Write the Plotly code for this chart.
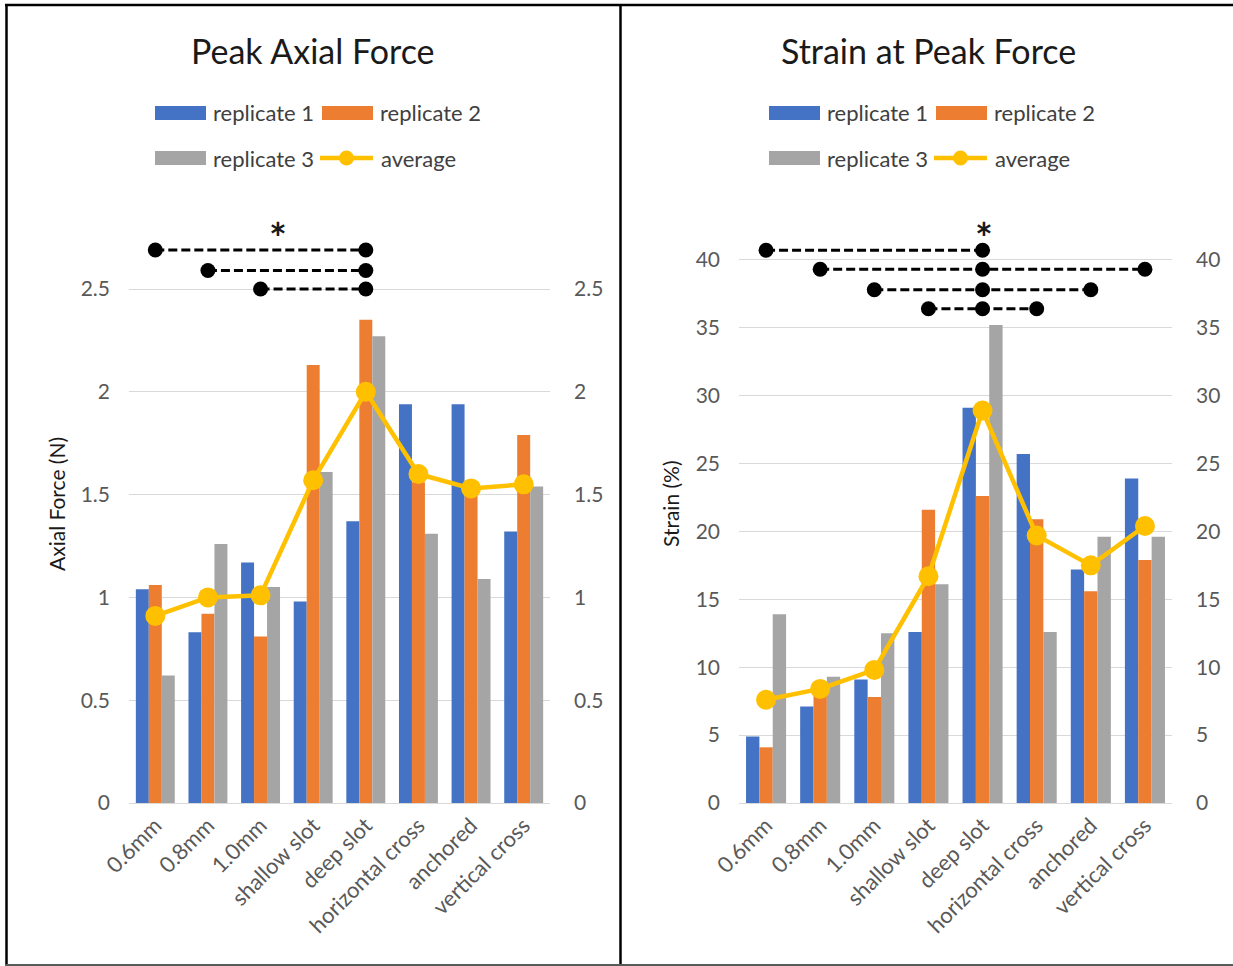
import plotly.graph_objects as go

# ---- data -------------------------------------------------------------
categories = ["0.6mm", "0.8mm", "1.0mm", "shallow slot", "deep slot",
              "horizontal cross", "anchored", "vertical cross"]

force_rep1 = [1.04, 0.83, 1.17, 0.98, 1.37, 1.94, 1.94, 1.32]
force_rep2 = [1.06, 0.92, 0.81, 2.13, 2.35, 1.56, 1.56, 1.79]
force_rep3 = [0.62, 1.26, 1.05, 1.61, 2.27, 1.31, 1.09, 1.54]
force_avg = [0.91, 1.00, 1.01, 1.57, 2.00, 1.60, 1.53, 1.55]

strain_rep1 = [4.9, 7.1, 9.1, 12.6, 29.1, 25.7, 17.2, 23.9]
strain_rep2 = [4.1, 8.6, 7.8, 21.6, 22.6, 20.9, 15.6, 17.9]
strain_rep3 = [13.9, 9.3, 12.5, 16.1, 35.2, 12.6, 19.6, 19.6]
strain_avg = [7.6, 8.4, 9.8, 16.7, 28.9, 19.7, 17.5, 20.4]

force_ticks = [0, 0.5, 1, 1.5, 2, 2.5]
strain_ticks = [0, 5, 10, 15, 20, 25, 30, 35, 40]

# significance brackets: categories joined by each dashed line, and its height
force_sig = [(["0.6mm", "deep slot"], 2.69),
             (["0.8mm", "deep slot"], 2.59),
             (["1.0mm", "deep slot"], 2.50)]
strain_sig = [(["0.6mm", "deep slot"], 40.7),
              (["0.8mm", "deep slot", "vertical cross"], 39.3),
              (["1.0mm", "deep slot", "anchored"], 37.8),
              (["shallow slot", "deep slot", "horizontal cross"], 36.4)]

series_names = ["replicate 1", "replicate 2", "replicate 3", "average"]

# ---- styling ----------------------------------------------------------
W, H = 1233, 966
BLUE, ORANGE, GRAY, GOLD = "#4472C4", "#ED7D31", "#A5A5A5", "#FFC000"
FONT = "Lato"
TICK_COLOR = "#595959"
GRID = "#D9D9D9"


def px(x):
    return x / W


def py(y):
    return 1 - y / H


fig = go.Figure()


def add_panel(xa, ya, reps, avg, sig):
    for vals, color in zip(reps, [BLUE, ORANGE, GRAY]):
        fig.add_trace(go.Bar(x=categories, y=vals, marker_color=color,
                             marker_line_width=0, xaxis=xa, yaxis=ya,
                             showlegend=False))
    fig.add_trace(go.Scatter(x=categories, y=avg, mode="lines+markers",
                             line=dict(color=GOLD, width=4.5),
                             marker=dict(color=GOLD, size=20),
                             xaxis=xa, yaxis=ya, showlegend=False))
    for cats, level in sig:
        fig.add_trace(go.Scatter(x=cats, y=[level] * len(cats),
                                 mode="lines+markers",
                                 line=dict(color="black", width=3, dash="9px,4px"),
                                 marker=dict(color="black", size=15),
                                 xaxis=xa, yaxis=ya, showlegend=False))


add_panel("x", "y", [force_rep1, force_rep2, force_rep3], force_avg, force_sig)
add_panel("x2", "y2", [strain_rep1, strain_rep2, strain_rep3], strain_avg, strain_sig)

# empty traces so the mirrored right-hand value axes are drawn
fig.add_trace(go.Scatter(x=[], y=[], xaxis="x", yaxis="y3", showlegend=False))
fig.add_trace(go.Scatter(x=[], y=[], xaxis="x2", yaxis="y4", showlegend=False))

# plot-area geometry (pixels)
ZERO_Y = 803
TOP_Y = 210
force_span = (ZERO_Y - TOP_Y) / 205.6     # 205.6 px per 1 N
strain_span = (ZERO_Y - TOP_Y) / 13.58    # 13.58 px per 1 %

ytickfont = dict(family=FONT, size=21, color=TICK_COLOR)
xtickfont = dict(family=FONT, size=22, color=TICK_COLOR)

xcommon = dict(type="category", range=[-0.5, 7.5], showgrid=False,
               showline=True, linecolor=GRID, linewidth=1, ticks="",
               tickangle=-45, tickfont=xtickfont, zeroline=False,
               automargin=False)
ycommon = dict(showgrid=True, gridcolor=GRID, gridwidth=1, zeroline=False,
               showline=False, ticks="", tickfont=ytickfont,
               ticklabelstandoff=18, automargin=False)
yright = {**ycommon, "showgrid": False, "ticklabelstandoff": 23}

fig.update_layout(
    width=W, height=H,
    margin=dict(l=0, r=0, t=0, b=0, autoexpand=False),
    paper_bgcolor="white", plot_bgcolor="white",
    barmode="group", bargap=0.26, bargroupgap=0,
    font=dict(family=FONT, color=TICK_COLOR),
    xaxis=dict(domain=[px(129), px(550)], anchor="y", **xcommon),
    xaxis2=dict(domain=[px(739), px(1172)], anchor="y2", **xcommon),
    yaxis=dict(domain=[py(ZERO_Y), py(TOP_Y)], anchor="x",
               range=[0, force_span], tickvals=force_ticks,
               ticktext=[f"{t:g}" for t in force_ticks], **ycommon),
    yaxis3=dict(overlaying="y", side="right", anchor="x",
                range=[0, force_span], tickvals=force_ticks,
                ticktext=[f"{t:g}" for t in force_ticks], **yright),
    yaxis2=dict(domain=[py(ZERO_Y), py(TOP_Y)], anchor="x2",
                range=[0, strain_span], tickvals=strain_ticks,
                ticktext=[str(t) for t in strain_ticks], **ycommon),
    yaxis4=dict(overlaying="y2", side="right", anchor="x2",
                range=[0, strain_span], tickvals=strain_ticks,
                ticktext=[str(t) for t in strain_ticks], **yright),
)

annotations = []
shapes = []


def note(x, y, text, size, color="#1a1a1a", xanchor="center", angle=0):
    annotations.append(dict(x=px(x), y=py(y), xref="paper", yref="paper",
                            text=text, showarrow=False, textangle=angle,
                            xanchor=xanchor, yanchor="middle",
                            font=dict(family=FONT, size=size, color=color)))


# titles, axis titles and significance stars
for cx, title, ytitle_x, ytitle, star_x in [
        (313, "Peak Axial Force", 56, "Axial Force (N)", 278),
        (928, "Strain at Peak Force", 670, "Strain (%)", 984)]:
    note(cx, 50, title, 34)
    note(ytitle_x, 504, ytitle, 21, angle=-90)
    note(star_x, 238, "<b>*</b>", 42)

# legend blocks drawn above each panel
for dx in (0, 614):
    rows = [(113, 155, BLUE, series_names[0]), (113, 322, ORANGE, series_names[1]),
            (158, 155, GRAY, series_names[2])]
    for ly, lx, color, name in rows:
        shapes.append(dict(type="rect", xref="paper", yref="paper",
                           x0=px(lx + dx), x1=px(lx + dx + 51),
                           y0=py(ly + 7), y1=py(ly - 7),
                           fillcolor=color, line=dict(width=0)))
        note(lx + dx + 56, ly, name, 22, color="#404040", xanchor="left")
    shapes.append(dict(type="line", xref="paper", yref="paper",
                       x0=px(320 + dx), x1=px(373 + dx), y0=py(158), y1=py(158),
                       line=dict(color=GOLD, width=4.5)))
    shapes.append(dict(type="circle", xref="paper", yref="paper",
                       x0=px(339 + dx), x1=px(354 + dx), y0=py(165.5), y1=py(150.5),
                       fillcolor=GOLD, line=dict(width=0)))
    note(379 + dx, 158, series_names[3], 22, color="#404040", xanchor="left")

# panel frame lines
shapes += [
    dict(type="line", xref="paper", yref="paper", x0=px(5), x1=1,
         y0=py(5), y1=py(5), line=dict(color="black", width=2.5)),
    dict(type="line", xref="paper", yref="paper", x0=px(6.5), x1=px(6.5),
         y0=py(4), y1=py(966), line=dict(color="black", width=2.5)),
    dict(type="line", xref="paper", yref="paper", x0=px(620.5), x1=px(620.5),
         y0=py(4), y1=py(966), line=dict(color="black", width=2.5)),
    dict(type="line", xref="paper", yref="paper", x0=px(5), x1=1,
         y0=py(965), y1=py(965), line=dict(color="#595959", width=2)),
]

fig.update_layout(annotations=annotations, shapes=shapes)

fig.write_html("out.html")
